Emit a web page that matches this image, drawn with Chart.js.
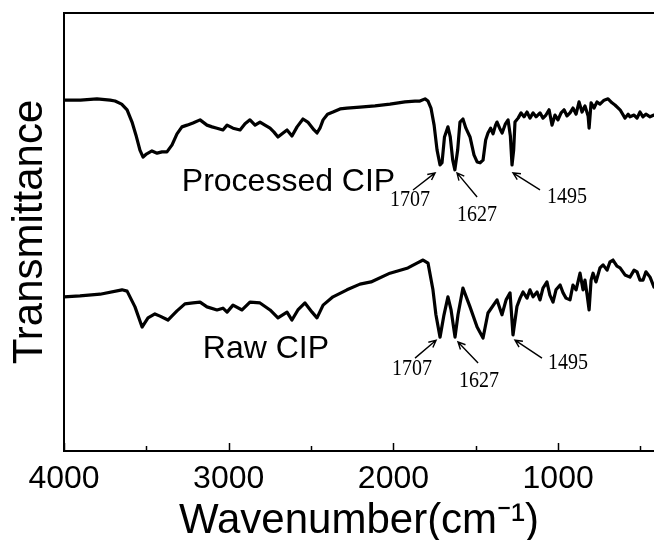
<!DOCTYPE html>
<html>
<head>
<meta charset="utf-8">
<script src="https://cdn.jsdelivr.net/npm/chart.js@4.4.0/dist/chart.umd.min.js"></script>
<style>
  html, body { margin: 0; padding: 0; background: #fff; }
  #wrap { width: 654px; height: 540px; position: relative; }
</style>
</head>
<body>
<div id="wrap"><canvas id="ftir-chart"></canvas></div>
<script>
// wavenumbers (cm-1) and transmittance (a.u.)
const procWn = [
  4000, 3900, 3800, 3720, 3690, 3650, 3617, 3587, 3563, 3539,
  3520, 3500, 3466, 3435, 3405, 3375, 3344, 3314, 3284, 3253,
  3217, 3174, 3132, 3101, 3071, 3035, 3010, 2974, 2931, 2901,
  2871, 2840, 2810, 2780, 2749, 2725, 2701, 2670, 2646, 2616,
  2585, 2549, 2520, 2482, 2464, 2446, 2427, 2400, 2367, 2324,
  2282, 2203, 2112, 2021, 1930, 1869, 1839, 1808, 1790, 1772,
  1753, 1735, 1717, 1705, 1690, 1669, 1655, 1640, 1627, 1610,
  1596, 1578, 1560, 1535, 1511, 1492, 1474, 1456, 1440, 1426,
  1410, 1395, 1380, 1371, 1355, 1340, 1320, 1304, 1290, 1280,
  1270, 1262, 1243, 1225, 1207, 1189, 1171, 1152, 1134, 1110,
  1092, 1074, 1055, 1037, 1019, 1001, 982, 964, 946, 928,
  910, 891, 873, 855, 837, 818, 812, 800, 782, 764,
  746, 721, 697, 673, 655, 624, 594, 575, 564, 539,
  521, 503, 485, 467, 442, 418
];
const procT = [
  80.1, 80.1, 80.4, 80.1, 79.9, 79.2, 77.9, 75.1, 72.1, 68.7,
  67.1, 67.8, 68.5, 68.0, 68.3, 68.3, 69.9, 72.4, 74.0, 74.4,
  74.9, 75.6, 74.4, 74.0, 73.7, 73.3, 74.4, 73.7, 73.3, 74.7,
  75.6, 74.4, 75.1, 74.4, 73.7, 72.8, 71.7, 72.6, 73.3, 71.9,
  74.0, 75.8, 75.1, 73.3, 72.6, 73.7, 75.6, 76.9, 77.4, 78.1,
  78.3, 78.5, 78.8, 79.2, 79.7, 79.9, 79.9, 80.4, 79.9, 78.3,
  74.4, 68.7, 65.3, 65.8, 71.7, 74.0, 71.7, 66.4, 64.2, 68.7,
  75.1, 75.8, 73.7, 71.7, 67.6, 66.0, 65.8, 66.4, 71.0, 72.6,
  73.7, 72.4, 74.4, 75.1, 73.7, 72.6, 74.7, 75.6, 71.9, 65.3,
  68.7, 75.1, 76.0, 77.2, 76.3, 77.4, 76.0, 77.2, 76.3, 77.2,
  76.0, 76.7, 77.9, 74.4, 76.7, 75.6, 77.2, 77.9, 76.5, 77.2,
  78.3, 76.9, 79.7, 77.4, 78.8, 76.5, 73.7, 79.5, 78.3, 79.7,
  79.2, 80.1, 80.4, 79.5, 79.0, 77.9, 76.0, 76.9, 76.3, 76.7,
  76.0, 77.4, 76.3, 76.9, 76.3, 76.7
];
const rawWn = [
  4000, 3903, 3781, 3648, 3617, 3569, 3526, 3490, 3448, 3417,
  3369, 3314, 3266, 3217, 3174, 3132, 3071, 3035, 3010, 2974,
  2919, 2871, 2810, 2749, 2701, 2646, 2616, 2580, 2537, 2494,
  2464, 2427, 2367, 2282, 2203, 2136, 2021, 1912, 1857, 1820,
  1790, 1760, 1742, 1717, 1693, 1669, 1650, 1626, 1608, 1578,
  1535, 1492, 1456, 1426, 1371, 1341, 1316, 1292, 1274, 1250,
  1231, 1213, 1189, 1171, 1152, 1128, 1110, 1092, 1068, 1050,
  1031, 1013, 988, 970, 952, 928, 910, 891, 867, 849,
  837, 824, 812, 800, 788, 770, 746, 727, 703, 685,
  667, 643, 624, 594, 564, 539, 521, 503, 485, 467,
  442, 418
];
const rawT = [
  35.2, 35.4, 35.8, 36.8, 36.5, 32.9, 28.3, 30.4, 31.3, 30.8,
  29.9, 32.0, 33.6, 33.8, 34.0, 32.9, 32.2, 32.6, 31.7, 33.3,
  32.2, 34.0, 33.8, 32.2, 30.4, 31.7, 29.9, 32.2, 33.8, 31.7,
  30.4, 33.3, 35.2, 36.8, 38.1, 38.6, 40.6, 41.8, 42.9, 43.6,
  42.9, 36.8, 31.1, 26.0, 31.1, 35.2, 32.2, 26.0, 31.1, 37.2,
  32.9, 28.3, 25.8, 31.5, 34.5, 31.1, 34.5, 36.1, 26.5, 33.0,
  34.9, 36.3, 34.9, 36.8, 35.2, 36.3, 34.5, 37.2, 38.6, 35.6,
  34.0, 36.8, 37.9, 36.1, 34.9, 34.5, 37.9, 36.8, 40.6, 36.8,
  39.0, 35.6, 32.2, 39.0, 40.6, 38.6, 41.8, 42.5, 41.3, 43.2,
  43.6, 42.2, 41.8, 40.2, 39.7, 41.3, 40.9, 39.0, 39.0, 40.9,
  39.7, 37.4
];

const xMajorTicks = [4000, 3000, 2000, 1000];
const xMinorTicks = [3500, 2500, 1500, 500];

// curve names, placed in data units
const seriesLabels = ['Processed CIP', 'Raw CIP'];
const seriesLabelX = [2637, 2774];
const seriesLabelY = [61.3, 23.3];

// peak call-outs: text position, arrow tail and arrow head
const peakLabels = ['1707', '1627', '1495'];
const procPeakText = [[1899, 57.3], [1492, 53.9], [946, 58.0]];
const procArrowTail = [[1881, 59.6], [1492, 58.0], [1110, 59.6]];
const procArrowHead = [[1747, 63.5], [1614, 63.5], [1274, 63.5]];
const rawPeakText = [[1887, 18.7], [1480, 16.0], [940, 20.1]];
const rawArrowTail = [[1869, 21.2], [1486, 20.1], [1098, 21.2]];
const rawArrowHead = [[1741, 25.3], [1608, 24.9], [1262, 25.3]];

const SANS = '"Liberation Sans", Arial, sans-serif';
const SERIF = '"Liberation Serif", "Times New Roman", serif';
Chart.defaults.font.family = SANS;

const toPoints = (xs, ys) => xs.map((x, i) => ({ x: x, y: ys[i] }));

function drawArrow(ctx, x1, y1, x2, y2) {
  const ang = Math.atan2(y2 - y1, x2 - x1);
  const len = 8;
  ctx.beginPath();
  ctx.moveTo(x1, y1);
  ctx.lineTo(x2, y2);
  ctx.moveTo(x2 - len * Math.cos(ang - 0.45), y2 - len * Math.sin(ang - 0.45));
  ctx.lineTo(x2, y2);
  ctx.lineTo(x2 - len * Math.cos(ang + 0.45), y2 - len * Math.sin(ang + 0.45));
  ctx.stroke();
}

const annotate = {
  id: 'annotate',
  afterDraw(chart) {
    const { ctx, chartArea, scales: { x, y } } = chart;
    ctx.save();
    ctx.strokeStyle = '#000';
    ctx.fillStyle = '#000';

    // top of the frame
    ctx.lineWidth = 2;
    ctx.beginPath();
    ctx.moveTo(chartArea.left - 1, chartArea.top);
    ctx.lineTo(chartArea.right, chartArea.top);
    ctx.stroke();

    // inward tick marks
    ctx.lineWidth = 1.5;
    const bottom = chartArea.bottom;
    xMajorTicks.forEach((v) => {
      const px = Math.round(x.getPixelForValue(v)) + 0.5;
      ctx.beginPath();
      ctx.moveTo(px, bottom);
      ctx.lineTo(px, bottom - 8);
      ctx.stroke();
    });
    xMinorTicks.forEach((v) => {
      const px = Math.round(x.getPixelForValue(v)) + 0.5;
      ctx.beginPath();
      ctx.moveTo(px, bottom);
      ctx.lineTo(px, bottom - 5);
      ctx.stroke();
    });

    // series names
    ctx.font = '32px ' + SANS;
    ctx.textAlign = 'center';
    ctx.textBaseline = 'middle';
    seriesLabels.forEach((txt, i) => {
      ctx.fillText(txt, x.getPixelForValue(seriesLabelX[i]), y.getPixelForValue(seriesLabelY[i]));
    });

    // peak labels and arrows
    const callouts = [
      [procPeakText, procArrowTail, procArrowHead],
      [rawPeakText, rawArrowTail, rawArrowHead],
    ];
    callouts.forEach(([texts, tails, heads]) => {
      peakLabels.forEach((lbl, i) => {
        ctx.save();
        ctx.translate(x.getPixelForValue(texts[i][0]), y.getPixelForValue(texts[i][1]));
        ctx.scale(0.87, 1);
        ctx.font = '23px ' + SERIF;
        ctx.fillText(lbl, 0, 0);
        ctx.restore();

        ctx.lineWidth = 1.4;
        drawArrow(
          ctx,
          x.getPixelForValue(tails[i][0]), y.getPixelForValue(tails[i][1]),
          x.getPixelForValue(heads[i][0]), y.getPixelForValue(heads[i][1])
        );
      });
    });
    ctx.restore();
  }
};

const ctx = document.getElementById('ftir-chart').getContext('2d');
new Chart(ctx, {
  type: 'line',
  data: {
    datasets: [
      { label: 'Processed CIP', data: toPoints(procWn, procT) },
      { label: 'Raw CIP', data: toPoints(rawWn, rawT) },
    ],
  },
  options: {
    responsive: true,
    maintainAspectRatio: false,
    animation: false,
    events: [],
    layout: { padding: { top: 13, left: 0, right: 0, bottom: 0 } },
    elements: {
      line: { borderColor: '#000', borderWidth: 3.2, tension: 0, borderJoinStyle: 'round', borderCapStyle: 'round' },
      point: { radius: 0 },
    },
    plugins: { legend: { display: false }, tooltip: { enabled: false } },
    scales: {
      x: {
        type: 'linear',
        reverse: true,
        min: 418,
        max: 4000,
        afterBuildTicks: (s) => { s.ticks = xMajorTicks.concat(xMinorTicks).sort((a, b) => a - b).map((v) => ({ value: v })); },
        afterFit: (s) => { s.height = 89; },
        grid: { display: false, drawTicks: false },
        border: { display: true, color: '#000', width: 2 },
        ticks: {
          autoSkip: false,
          maxRotation: 0,
          padding: 9,
          color: '#000',
          font: { size: 32 },
          callback: (v) => (v % 1000 === 0 ? String(v) : ''),
        },
        title: {
          display: true,
          text: 'Wavenumber(cm\u207B\u00B9)',
          color: '#000',
          font: { size: 42, lineHeight: 0.9 },
          padding: 0,
        },
      },
      y: {
        min: 0,
        max: 100,
        afterFit: (s) => { s.width = 64; },
        grid: { display: false, drawTicks: false },
        border: { display: true, color: '#000', width: 2 },
        ticks: { display: false },
        title: {
          display: true,
          text: 'Transmittance',
          color: '#000',
          font: { size: 42 },
          padding: { top: 5, bottom: 0 },
        },
      },
    },
  },
  plugins: [annotate],
});
</script>
</body>
</html>
